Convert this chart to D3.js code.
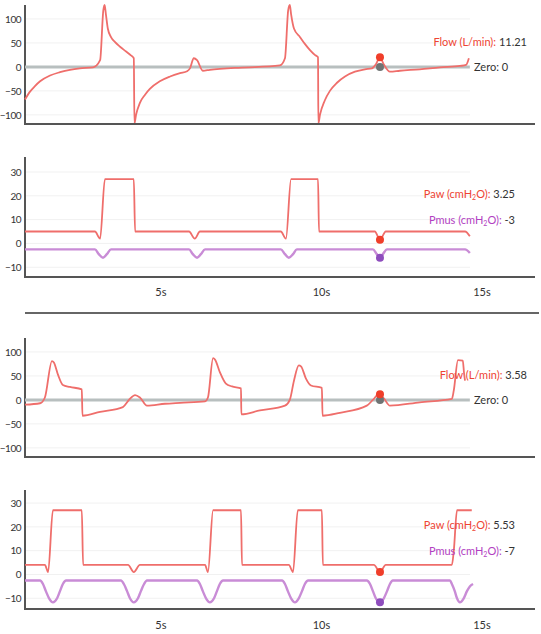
<!DOCTYPE html>
<meta charset="utf-8">

<!-- Load d3.js -->
<script src="https://d3js.org/d3.v7.min.js"></script>

<style>
  body { margin: 0; background: #fff; }
  text { font-family: Lato, "Open Sans", sans-serif; }
</style>

<div id="chart"></div>

<script>
  // ticks
  var timeTicks = [5, 10, 15]
  var flowTicks = [-100, -50, 0, 50, 100]
  var pressTicks = [-10, 0, 10, 20, 30]

  // cursor time (s)
  var cursorT = 11.84

  // ---- patient A : [time s, value]
  var flowA = [[0.78,-68],[0.93,-52],[1.09,-40],[1.25,-30],[1.56,-18],[1.87,-11],[2.18,-6],[2.49,-3],[2.90,-1],
    [3.12,14],[3.22,118],[3.26,129],[3.30,110],[3.36,80],[3.46,62],[3.58,52],[3.74,42],[3.93,32],[4.08,24],[4.17,18],
    [4.19,-118],[4.24,-100],[4.36,-75],[4.52,-58],[4.67,-46],[4.98,-30],[5.30,-20],[5.61,-13],[5.83,-9],
    [5.92,-3],[6.04,18],[6.14,14],[6.32,-8],[6.54,-6],[6.85,-4],[7.32,-2],[7.79,-1],[8.72,3],
    [8.88,18],[8.98,118],[9.03,129],[9.07,110],[9.16,80],[9.35,62],[9.50,48],[9.66,35],[9.81,25],[9.91,20],
    [9.92,-118],[9.97,-100],[10.12,-70],[10.28,-50],[10.50,-33],[10.75,-20],[11.06,-10],[11.37,-5],[11.59,-3],
    [11.71,5],[11.84,20],[11.96,5],[12.15,-10],[12.46,-8],[13.08,-5],[13.71,-1],[14.33,2],[14.52,4],[14.61,18]]
  var pawA = [[0.78,5],[2.96,5],[3.12,2],[3.27,27],[4.17,27],[4.21,5],[5.89,5],[6.07,2],[6.23,5],
    [8.75,5],[8.91,2],[9.07,27],[9.91,27],[9.94,5],[11.68,5],[11.84,1.5],[12.02,5],[14.49,5],[14.64,3]]
  var pmusA = [[0.78,-2.5],[2.96,-2.5],[3.08,-4.5],[3.21,-6],[3.33,-4.5],[3.46,-2.5],
    [5.89,-2.5],[6.01,-4.5],[6.14,-6],[6.26,-4.5],[6.39,-2.5],
    [8.75,-2.5],[8.88,-4.5],[9.00,-6],[9.13,-4.5],[9.25,-2.5],
    [11.62,-2.5],[11.74,-4.5],[11.84,-6],[11.93,-4.5],[12.06,-2.5],[14.49,-2.5],[14.64,-4]]
  // cursor values: flow, paw, pmus
  var cursorA = [20, 1.5, -6]
  // readouts: flow, paw, pmus
  var readA = ["11.21", "3.25", "-3"]

  // ---- patient B
  var flowB = [[0.78,-10],[1.25,-7],[1.40,5],[1.62,81],[1.68,78],[1.81,52],[1.96,31],[2.18,27],[2.55,22],
    [2.57,-33],[3.12,-25],[3.83,-15],[4.02,0],[4.21,10],[4.36,5],[4.58,-12],[5.14,-8],[5.61,-6],
    [6.39,-3],[6.48,5],[6.64,87],[6.70,84],[6.85,58],[7.04,34],[7.23,28],[7.51,24],
    [7.52,-30],[8.10,-22],[8.88,-12],[9.03,0],[9.16,40],[9.31,72],[9.38,70],[9.53,45],[9.69,30],[10.03,25],
    [10.05,-33],[10.59,-27],[11.43,-12],[11.62,0],[11.81,12],[11.96,3],[12.15,-12],[13.08,-5],[14.08,2],
    [14.14,20],[14.27,83],[14.42,82],[14.46,55],[14.49,40]]
  var pawB = [[0.78,4],[1.40,4],[1.50,1],[1.65,27],[2.55,27],[2.59,4],[3.99,4],[4.17,1],[4.36,4],
    [6.39,4],[6.48,1],[6.64,27],[7.51,27],[7.54,4],[9.00,4],[9.13,1],[9.28,27],[10.03,27],[10.06,4],
    [11.65,4],[11.84,1],[12.02,4],[14.08,4],[14.14,10],[14.24,27],[14.70,27]]
  var pmusB = [[0.78,-2.5],
    [1.25,-2.5],[1.34,-4],[1.43,-7],[1.53,-10],[1.65,-11.7],[1.78,-10],[1.87,-7],[1.96,-4],[2.06,-2.5],
    [3.77,-2.5],[3.86,-4],[3.96,-7],[4.05,-10],[4.17,-11.7],[4.30,-10],[4.39,-7],[4.49,-4],[4.58,-2.5],
    [6.14,-2.5],[6.23,-4],[6.32,-7],[6.42,-10],[6.54,-11.7],[6.67,-10],[6.76,-7],[6.85,-4],[6.95,-2.5],
    [8.79,-2.5],[8.88,-4],[8.97,-7],[9.07,-10],[9.19,-11.7],[9.31,-10],[9.41,-7],[9.50,-4],[9.60,-2.5],
    [11.43,-2.5],[11.53,-4],[11.62,-7],[11.71,-10],[11.84,-11.7],[11.96,-10],[12.06,-7],[12.15,-4],[12.24,-2.5],
    [14.02,-2.5],[14.08,-4],[14.17,-7],[14.24,-10],[14.33,-11.7],[14.45,-10],[14.55,-7],[14.64,-5],[14.74,-4]]
  var cursorB = [12, 1, -11.7]
  var readB = ["3.58", "5.53", "-7"]

  var RED = "#ef6e6b", PURPLE = "#c98cd6", LRED = "#ee4433", LPURPLE = "#b23fc2"

  const svg = d3.select("#chart")
    .append("svg")
      .attr("width", 541)
      .attr("height", 634)

  const x = d3.scaleLinear().domain([0.78, 16.67]).range([25, 535])
  const zeroEnd = 14.64

  function lineOf(y) {
    return d3.line()
      .x(d => x(d[0]))
      .y(d => y(d[1]))
      .curve(d3.curveMonotoneX)
  }

  function yAxis(g, y, ticks, top, bottom) {
    // faint grid
    g.selectAll(".grid")
      .data(ticks)
      .join("line")
        .attr("x1", 26).attr("x2", 470)
        .attr("y1", d => y(d)).attr("y2", d => y(d))
        .attr("stroke", "#f1f1f1")
    g.append("g")
      .attr("transform", "translate(25,0)")
      .call(d3.axisLeft(y).tickValues(ticks).tickSize(0).tickPadding(4))
      .call(a => a.select(".domain").remove())
      .selectAll("text")
        .style("font-size", "10px")
        .style("letter-spacing", "-0.5px")
        .attr("fill", "#333")
    g.append("line")
      .attr("x1", 25).attr("x2", 25).attr("y1", top).attr("y2", bottom)
      .attr("stroke", "#555").attr("stroke-width", 2)
  }

  function xAxis(g, bottom, labels, pad) {
    const ax = d3.axisBottom(x).tickValues(labels ? timeTicks : []).tickSize(0).tickPadding(pad)
      .tickFormat(d => d + "s")
    g.append("g")
      .attr("transform", `translate(0,${bottom})`)
      .call(ax)
      .call(a => a.select(".domain").remove())
      .selectAll("text").style("font-size", "11px").attr("fill", "#333")
    g.append("line")
      .attr("x1", 24).attr("x2", 535).attr("y1", bottom).attr("y2", bottom)
      .attr("stroke", "#555").attr("stroke-width", 2)
  }

  // readout label with colored name + dark value
  function readout(g, xr, yc, parts, color, value) {
    const t = g.append("text")
      .attr("x", xr).attr("y", yc)
      .attr("text-anchor", "end")
      .attr("dominant-baseline", "middle")
      .style("font-size", "11px")
    parts.forEach(p => {
      if (p.sub) {
        t.append("tspan").attr("fill", color).attr("dy", 3).style("font-size", "7px").text(p.sub)
        t.append("tspan").attr("fill", color).attr("dy", -3).text(p.after)
      } else {
        t.append("tspan").attr("fill", color).text(p.text)
      }
    })
    t.append("tspan").attr("fill", "#333").text(" " + value)
  }

  function dot(g, cx, cy, color) {
    g.append("circle").attr("cx", cx).attr("cy", cy).attr("r", 4).attr("fill", color)
  }

  function flowPanel(top, bottom, data, cur, val) {
    const g = svg.append("g")
    const y = d3.scaleLinear().domain([-119, 129]).range([bottom, top])
    yAxis(g, y, flowTicks, top, bottom)
    // zero reference
    g.append("line")
      .attr("x1", x(0.78)).attr("x2", x(zeroEnd))
      .attr("y1", y(0)).attr("y2", y(0))
      .attr("stroke", "#b8bfbf").attr("stroke-width", 3)
    g.append("path")
      .datum(data)
      .attr("d", lineOf(y))
      .attr("fill", "none")
      .attr("stroke", RED)
      .attr("stroke-width", 1.8)
    dot(g, x(cursorT), y(0), "#6f7474")
    dot(g, x(cursorT), y(cur), "#f03e2a")
    xAxis(g, bottom, false, 0)
    readout(g, 527, y(0) - 24, [{text: "Flow (L/min):"}], LRED, val)
    g.append("text")
      .attr("x", 474).attr("y", y(0) + 1)
      .attr("dominant-baseline", "middle")
      .style("font-size", "11px").attr("fill", "#333")
      .text("Zero: 0")
  }

  function pressPanel(top, bottom, dom, paw, pmus, cur, vals, pad) {
    const g = svg.append("g")
    const y = d3.scaleLinear().domain(dom).range([bottom, top])
    yAxis(g, y, pressTicks, top, bottom)
    g.append("path")
      .datum(pmus)
      .attr("d", lineOf(y))
      .attr("fill", "none")
      .attr("stroke", PURPLE)
      .attr("stroke-width", 2.4)
    g.append("path")
      .datum(paw)
      .attr("d", lineOf(y))
      .attr("fill", "none")
      .attr("stroke", RED)
      .attr("stroke-width", 1.8)
    dot(g, x(cursorT), y(cur[1]), "#f03e2a")
    dot(g, x(cursorT), y(cur[2]), "#8e4dbd")
    xAxis(g, bottom, true, pad)
    readout(g, 515, y(20.5), [{text: "Paw (cmH"}, {sub: "2", after: "O):"}], LRED, vals[1])
    readout(g, 515, y(9.5), [{text: "Pmus (cmH"}, {sub: "2", after: "O):"}], LPURPLE, vals[2])
  }

  flowPanel(5, 124, flowA, cursorA[0], readA[0])
  pressPanel(157, 277, [-14.1, 36.3], pawA, pmusA, cursorA, readA, 11)

  // separator
  svg.append("line")
    .attr("x1", 25).attr("x2", 539).attr("y1", 313).attr("y2", 313)
    .attr("stroke", "#666").attr("stroke-width", 2)

  flowPanel(338, 457, flowB, cursorB[0], readB[0])
  pressPanel(490, 609, [-14.5, 35.5], pawB, pmusB, cursorB, readB, 12)
</script>
